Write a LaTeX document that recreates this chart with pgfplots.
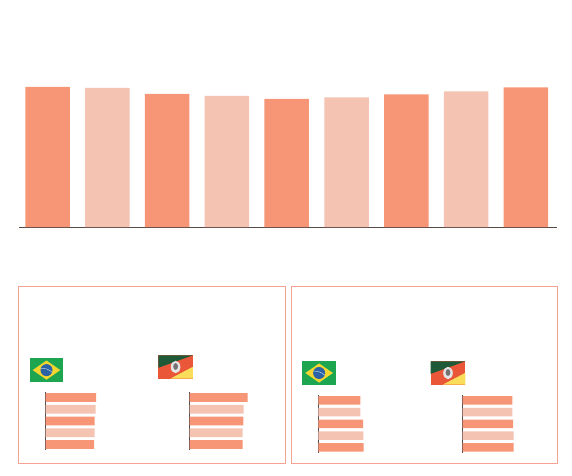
\documentclass[border=0pt]{standalone}
\usepackage{pgfplots}
\pgfplotsset{compat=1.18}

\definecolor{bardark}{HTML}{F79677}
\definecolor{barlight}{HTML}{F4C3B2}
\definecolor{panelline}{HTML}{F5A193}
\definecolor{axisline}{HTML}{5A4A46}
\definecolor{brgreen}{HTML}{1DA550}
\definecolor{bryellow}{HTML}{F3D52F}
\definecolor{brblue}{HTML}{2B62A6}
\definecolor{rsgreen}{HTML}{1F5A38}
\definecolor{rsred}{HTML}{EA5638}
\definecolor{rsyellow}{HTML}{FBDD5C}

% small horizontal bar chart: x, top (pixels of the reference), dark bars, light bars
\newcommand{\hbars}[4]{%
  \begin{axis}[
    at={(#1pt,475pt-#2pt)}, anchor=north west,
    scale only axis, width=70pt, height=58.75pt,
    xmin=0, xmax=70, ymin=0.5, ymax=5.5, y dir=reverse,
    axis x line=none, axis y line=left,
    axis line style={-, color=axisline, line width=1.1pt},
    xtick=\empty, ytick=\empty,
    xbar, bar shift=0pt, bar width=8.7pt,
  ]
  \addplot[draw=none, fill=bardark] coordinates {#3};
  \addplot[draw=none, fill=barlight] coordinates {#4};
  \end{axis}%
}

% flags, w 34 x h 23.5 pixels
\newcommand{\brflag}[2]{%
  \begin{scope}[shift={(#1,#2)}]
    \fill[brgreen] (0,0) rectangle (33.6,23.6);
    \fill[bryellow] (3,11.8) -- (16.8,2.2) -- (30.6,11.8) -- (16.8,21.4) -- cycle;
    \fill[brblue] (16.8,11.8) circle (6);
    \draw[white!70!brblue, line width=0.5pt] (11,10) .. controls (15,9.5) and (19,11) .. (22.5,14);
  \end{scope}%
}
\newcommand{\rsflag}[2]{%
  \begin{scope}[shift={(#1,#2)}]
    \fill[rsred] (0,0) rectangle (34.6,23.4);
    \fill[rsgreen] (0,0) -- (34.6,0) -- (0,12.5) -- cycle;
    \fill[rsyellow] (34.6,11.5) -- (34.6,23.4) -- (12,23.4) -- cycle;
    \fill[white!90!black] (17.3,11.7) ellipse (4.8 and 6.2);
    \fill[black!55!white] (17.3,11.2) ellipse (2.4 and 3.4);
  \end{scope}%
}

\begin{document}
\begin{tikzpicture}
  \path[use as bounding box] (0pt,0pt) rectangle (572pt,475pt);

  \begin{scope}[x=1pt, y=-1pt, yshift=475pt]
    \draw[panelline, line width=0.9pt] (18.5,286) rectangle (285,463);
    \draw[panelline, line width=0.9pt] (291,286) rectangle (557.5,463);
    \brflag{29.7}{358.3}
    \rsflag{158.3}{355.3}
    \brflag{302.3}{361.2}
    \rsflag{430.7}{361.3}
  \end{scope}

  % top chart
  \begin{axis}[
    at={(19pt,248pt)}, anchor=south west,
    scale only axis, width=538pt, height=141pt,
    xmin=-0.477, xmax=8.52, ymin=0, ymax=141,
    axis y line=none, axis x line=bottom,
    axis line style={-, color=axisline, line width=1pt},
    xtick=\empty, ytick=\empty,
    ybar, bar shift=0pt, bar width=44.5pt,
  ]
  \addplot[draw=none, fill=bardark] coordinates {(0,140) (2,133) (4,128) (6,132.5) (8,139.5)};
  \addplot[draw=none, fill=barlight] coordinates {(1,139) (3,131) (5,129.5) (7,135.5)};
  \end{axis}

  \hbars{45.7}{391.7}{(50.3,1) (49,3) (48.3,5)}{(50,2) (49,4)}
  \hbars{189.7}{391.7}{(58,1) (53.6,3) (53,5)}{(54,2) (53,4)}
  \hbars{318.3}{394.5}{(42,1) (44.7,3) (45.4,5)}{(42,2) (45,4)}
  \hbars{462.7}{394.5}{(49.6,1) (50.3,3) (51,5)}{(49.6,2) (51,4)}
\end{tikzpicture}
\end{document}
